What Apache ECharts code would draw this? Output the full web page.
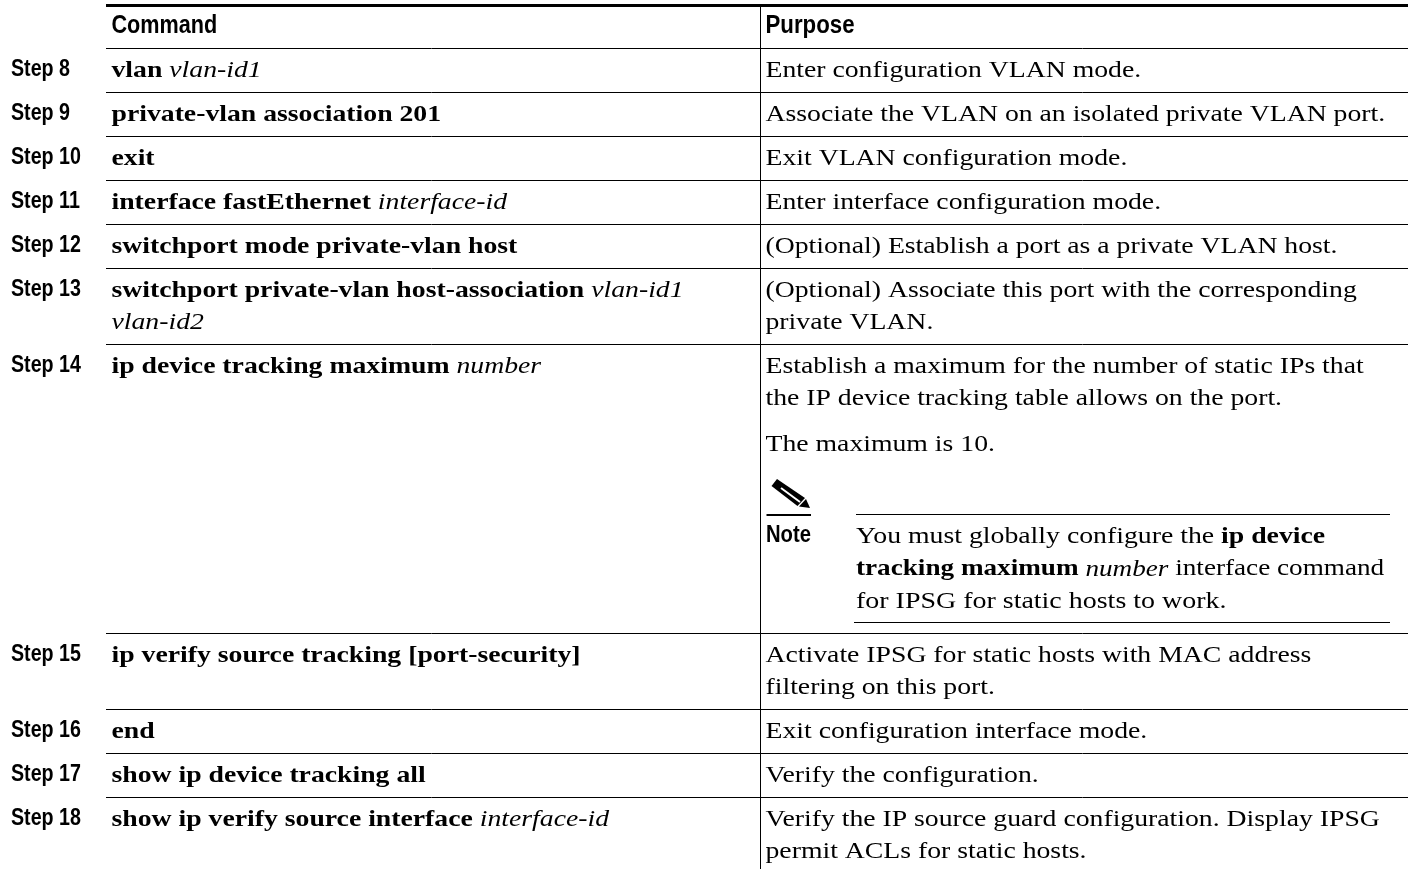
<!DOCTYPE html>
<html>
<head>
<meta charset="utf-8">
<style>html,body{margin:0;padding:0;background:#fff}#main{width:1408px;height:869px}</style>
<script src="https://cdn.jsdelivr.net/npm/echarts@6/dist/echarts.min.js"></script>
</head>
<body>
<div id="main"></div>
<script>
// table content
const headers = ['Command', 'Purpose']
const steps = ['Step 8', 'Step 9', 'Step 10', 'Step 11', 'Step 12', 'Step 13', 'Step 14', 'Step 15', 'Step 16', 'Step 17', 'Step 18']
const commands = [
  '{b|vlan }{i|vlan-id1}',
  '{b|private-vlan association 201}',
  '{b|exit}',
  '{b|interface fastEthernet }{i|interface-id}',
  '{b|switchport mode private-vlan host}',
  '{b|switchport private-vlan host-association }{i|vlan-id1}\n{i|vlan-id2}',
  '{b|ip device tracking maximum }{i|number}',
  '{b|ip verify source tracking [port-security]}',
  '{b|end}',
  '{b|show ip device tracking all}',
  '{b|show ip verify source interface }{i|interface-id}'
]
const purposes = [
  'Enter configuration VLAN mode.',
  'Associate the VLAN on an isolated private VLAN port.',
  'Exit VLAN configuration mode.',
  'Enter interface configuration mode.',
  '(Optional) Establish a port as a private VLAN host.',
  '(Optional) Associate this port with the corresponding\nprivate VLAN.',
  'Establish a maximum for the number of static IPs that\nthe IP device tracking table allows on the port.',
  'Activate IPSG for static hosts with MAC address\nfiltering on this port.',
  'Exit configuration interface mode.',
  'Verify the configuration.',
  'Verify the IP source guard configuration. Display IPSG\npermit ACLs for static hosts.'
]
const maximumText = 'The maximum is 10.'
const noteLabel = 'Note'
const noteLines = [
  '{n|You must globally configure the }{b|ip device}',
  '{b|tracking maximum }{i|number}{n| interface command}',
  '{n|for IPSG for static hosts to work.}'
]

// layout, in page pixels: the axes below run 1:1 with the page
const rowEdges = [48, 92, 136, 180, 224, 268, 344, 633, 709, 753, 797, 869]
const columnX = { step: 11, rule: 106, command: 111.5, divider: 760.5, purpose: 765.5, right: 1408 }
const noteScales = [1.157, 1.132, 1.165]
const SERIF = '"Liberation Serif"'
const SANS = '"Liberation Sans"'
const serifSize = 24
const serifScale = 1.155
const TEXT_TOP = 6.5

function textEl(api, x, y, text, style, scaleX) {
  const p = api.coord([x, y])
  return {
    type: 'text',
    x: p[0],
    y: p[1],
    scaleX: scaleX,
    style: Object.assign({ text: text, fill: '#000', textVerticalAlign: 'top' }, style)
  }
}

function lineEl(api, x1, y1, x2, y2, width, color) {
  const a = api.coord([x1, y1])
  const b = api.coord([x2, y2])
  return { type: 'line', shape: { x1: a[0], y1: a[1], x2: b[0], y2: b[1] }, style: { stroke: color || '#000', lineWidth: width } }
}

const commandStyle = {
  rich: {
    b: { fontFamily: SERIF, fontWeight: 'bold', fontSize: serifSize, lineHeight: 32, fill: '#000' },
    i: { fontFamily: SERIF, fontStyle: 'italic', fontSize: serifSize, lineHeight: 32, fill: '#000' },
    n: { fontFamily: SERIF, fontSize: serifSize, lineHeight: 32, fill: '#000' }
  }
}
const purposeStyle = { fontFamily: SERIF, fontSize: serifSize, lineHeight: 32 }
const stepStyle = { fontFamily: SANS, fontWeight: 'bold', fontSize: 23 }
const headerStyle = { fontFamily: SANS, fontWeight: 'bold', fontSize: 25 }

function renderRow(params, api) {
  const i = api.value(0)
  const top = rowEdges[i]
  const children = [
    textEl(api, columnX.step, top + 10.5, steps[i], stepStyle, 0.855),
    textEl(api, columnX.command, top + TEXT_TOP, commands[i], commandStyle, serifScale),
    textEl(api, columnX.purpose, top + TEXT_TOP, purposes[i], purposeStyle, serifScale)
  ]
  if (i < steps.length - 1) {
    children.push(lineEl(api, columnX.rule, rowEdges[i + 1] + 0.5, columnX.right, rowEdges[i + 1] + 0.5, 1))
  }
  return { type: 'group', children: children }
}

function renderFrame(params, api) {
  return {
    type: 'group',
    children: [
      lineEl(api, columnX.rule, 5.5, columnX.right, 5.5, 3),
      lineEl(api, columnX.rule, rowEdges[0] + 0.5, columnX.right, rowEdges[0] + 0.5, 1),
      lineEl(api, columnX.divider, 7, columnX.divider, rowEdges[rowEdges.length - 1], 1),
      textEl(api, columnX.command, 14, headers[0], headerStyle, 0.865),
      textEl(api, columnX.purpose, 14, headers[1], headerStyle, 0.89)
    ]
  }
}

function renderNote(params, api) {
  const noteX = 856
  const pts = list => list.map(pt => api.coord(pt))
  const children = [
    textEl(api, columnX.purpose, 429, maximumText, purposeStyle, serifScale),
    lineEl(api, 766.5, 515, 811, 515, 2),
    lineEl(api, noteX, 514.5, 1390, 514.5, 1),
    lineEl(api, 854, 622.5, 1390, 622.5, 1),
    { type: 'polygon', shape: { points: pts([[777, 479], [771.5, 486], [797.5, 506], [805, 498]]) }, style: { fill: '#000' } },
    { type: 'polygon', shape: { points: pts([[799, 506.5], [810, 508], [806, 499]]) }, style: { fill: '#000' } },
    lineEl(api, 781, 488, 800, 502, 2, '#fff'),
    textEl(api, 766, 524.5, noteLabel, stepStyle, 0.88)
  ]
  noteLines.forEach((line, i) => {
    children.push(textEl(api, noteX, 521 + i * 32.2, line, commandStyle, noteScales[i]))
  })
  return { type: 'group', children: children }
}

const chart = echarts.init(document.getElementById('main'), null, { renderer: 'canvas' })
chart.setOption({
  animation: false,
  backgroundColor: '#fff',
  grid: { left: 0, right: 0, top: 0, bottom: 0 },
  xAxis: { type: 'value', min: 0, max: 1408, show: false },
  yAxis: { type: 'value', min: 0, max: 869, inverse: true, show: false },
  series: [
    { type: 'custom', coordinateSystem: 'cartesian2d', silent: true, clip: false, renderItem: renderFrame, encode: { x: 0, y: 0 }, data: [[0]] },
    { type: 'custom', coordinateSystem: 'cartesian2d', silent: true, clip: false, renderItem: renderRow, encode: { x: 0, y: 0 }, data: steps.map((s, i) => [i]) },
    { type: 'custom', coordinateSystem: 'cartesian2d', silent: true, clip: false, renderItem: renderNote, encode: { x: 0, y: 0 }, data: [[0]] }
  ]
})
</script>
</body>
</html>
